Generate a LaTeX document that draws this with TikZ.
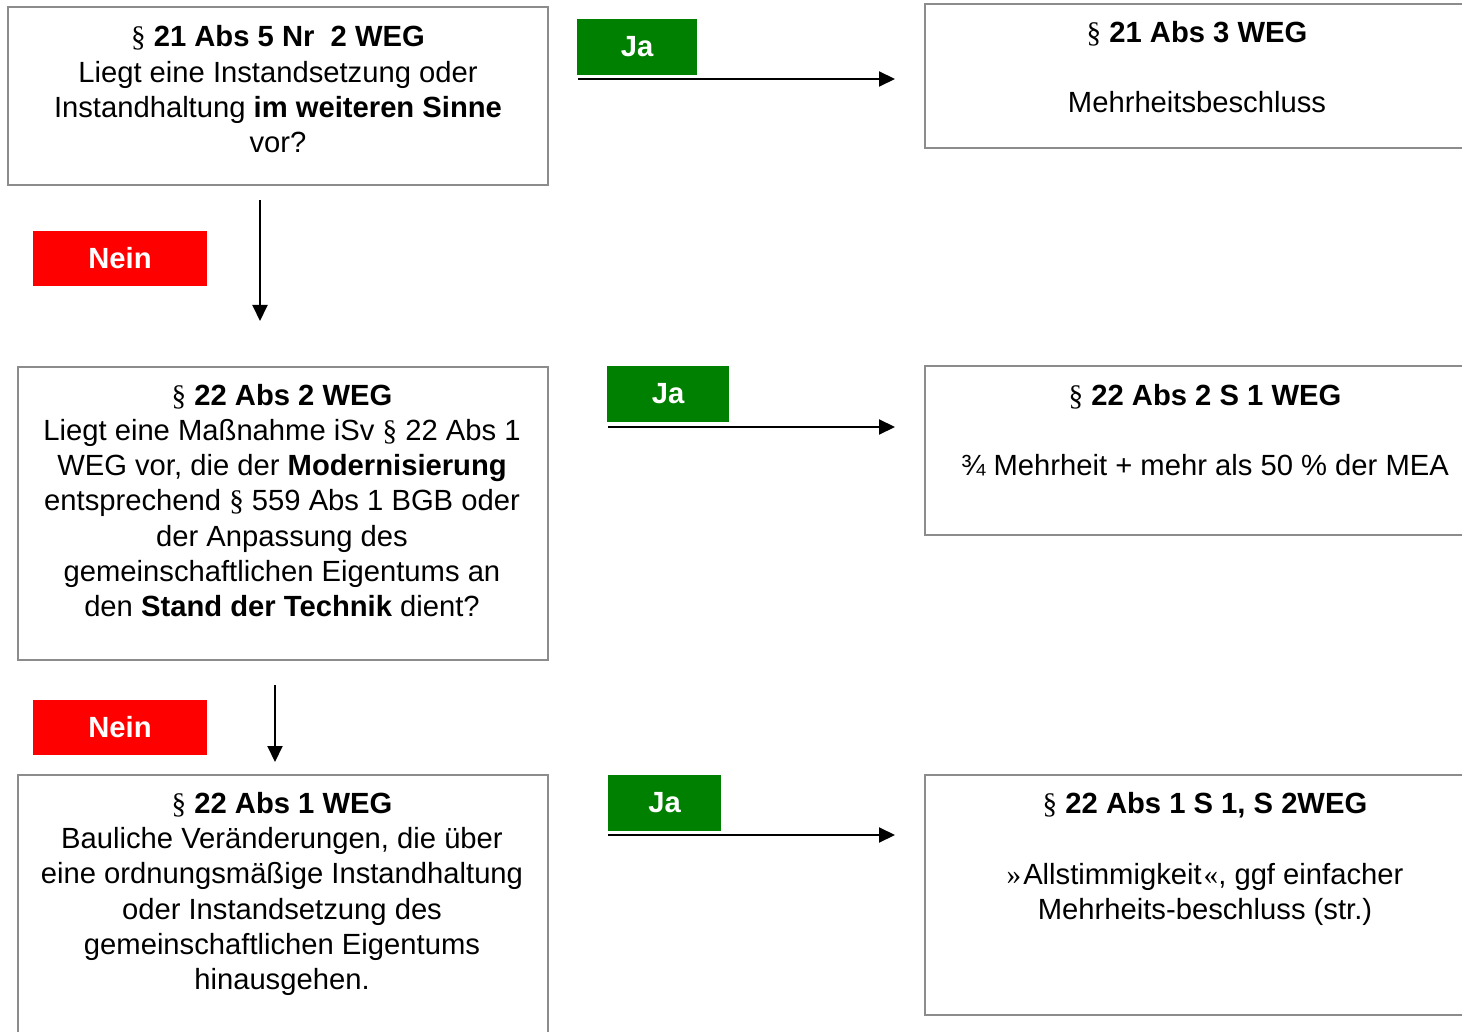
\documentclass[tikz,border=0pt]{standalone}
\usepackage{fontspec}
\setmainfont{Liberation Sans}
\newfontfamily\parafont{Liberation Serif}
\usetikzlibrary{arrows.meta}
\definecolor{boxgray}{HTML}{8C8C8C}
\definecolor{jagreen}{HTML}{008000}
\definecolor{neinred}{HTML}{FF0000}
\newcommand{\para}{{\parafont\mdseries §}}
\begin{document}
\begin{tikzpicture}[x=0.5pt,y=-0.5pt,
  font=\fontsize{14.6pt}{17.6pt}\selectfont,
  boxst/.style={draw=boxgray, line width=1pt, rectangle, inner sep=0pt},
  txt/.style={anchor=base, align=center, inner sep=0pt},
  jast/.style={fill=jagreen, text=white, font=\fontsize{14.6pt}{17.6pt}\selectfont\bfseries, inner sep=0pt, minimum height=28pt},
  neinst/.style={fill=neinred, text=white, font=\fontsize{14.6pt}{17.6pt}\selectfont\bfseries, inner sep=0pt, minimum width=87pt, minimum height=27.5pt},
  arr/.style={line width=1pt, -{Triangle[length=8pt,width=7.5pt]}}]
\useasboundingbox (0,0) rectangle (1462,1032);
\clip (0,0) rectangle (1462,1032);
% boxes
\node[boxst, minimum width=270pt, minimum height=89pt] (b1) at (278,96) {};
\node[boxst, minimum width=272.5pt, minimum height=72pt] (r1) at (1197.5,76) {};
\node[boxst, minimum width=265pt, minimum height=146.5pt] (b2) at (283,513.5) {};
\node[boxst, minimum width=272.5pt, minimum height=84.5pt] (r2) at (1197.5,450.5) {};
\node[boxst, minimum width=265pt, minimum height=135pt] (b3) at (283,910) {};
\node[boxst, minimum width=272.5pt, minimum height=120pt] (r3) at (1197.5,895) {};
% texts (anchor base = baseline of last line)
\node[txt] (t1) at (278,152.5) {\para\ \textbf{21 Abs 5 Nr\ \ 2 WEG}\\ Liegt eine Instandsetzung oder\\ Instandhaltung \textbf{im weiteren Sinne}\\ vor?};
\node[txt] (tr1) at (1197,112.5) {\para\ \textbf{21 Abs 3 WEG}\\[17.6pt] Mehrheitsbeschluss};
\node[txt] (t2) at (282,616.5) {\para\ \textbf{22 Abs 2 WEG}\\ Liegt eine Maßnahme iSv \para\ 22 Abs 1\\ WEG vor, die der \textbf{Modernisierung}\\ entsprechend \para\ 559 Abs 1 BGB oder\\ der Anpassung des\\ gemeinschaftlichen Eigentums an\\ den \textbf{Stand der Technik} dient?};
\node[txt] (tr2) at (1205,475.5) {\para\ \textbf{22 Abs 2 S 1 WEG}\\[17.6pt] ¾ Mehrheit + mehr als 50 \% der MEA};
\node[txt] (t3) at (282,989.5) {\para\ \textbf{22 Abs 1 WEG}\\ Bauliche Veränderungen, die über\\ eine ordnungsmäßige Instandhaltung\\ oder Instandsetzung des\\ gemeinschaftlichen Eigentums\\ hinausgehen.};
\node[txt] (tr3) at (1205,919.5) {\para\ \textbf{22 Abs 1 S 1, S 2WEG}\\[17.6pt] {\parafont »}\kern1pt Allstimmigkeit\kern1pt{\parafont «}, ggf einfacher\\ Mehrheits-beschluss (str.)};
% labels
\node[jast, minimum width=60pt] (ja1) at (637,47) {Ja};
\node[jast, minimum width=61pt] (ja2) at (668,394) {Ja};
\node[jast, minimum width=56.5pt] (ja3) at (664.5,803) {Ja};
\node[neinst] (n1) at (120,258.5) {Nein};
\node[neinst] (n2) at (120,727.5) {Nein};
% arrow ends
\coordinate (a1s) at (578,79); \coordinate (a1e) at (895,79);
\coordinate (a2s) at (608,427); \coordinate (a2e) at (895,427);
\coordinate (a3s) at (608,835); \coordinate (a3e) at (895,835);
\coordinate (d1s) at (260,200); \coordinate (d1e) at (260,321);
\coordinate (d2s) at (275,685); \coordinate (d2e) at (275,762);
\draw[arr] (a1s) -- (a1e);
\draw[arr] (a2s) -- (a2e);
\draw[arr] (a3s) -- (a3e);
\draw[arr] (d1s) -- (d1e);
\draw[arr] (d2s) -- (d2e);
\end{tikzpicture}
\end{document}
